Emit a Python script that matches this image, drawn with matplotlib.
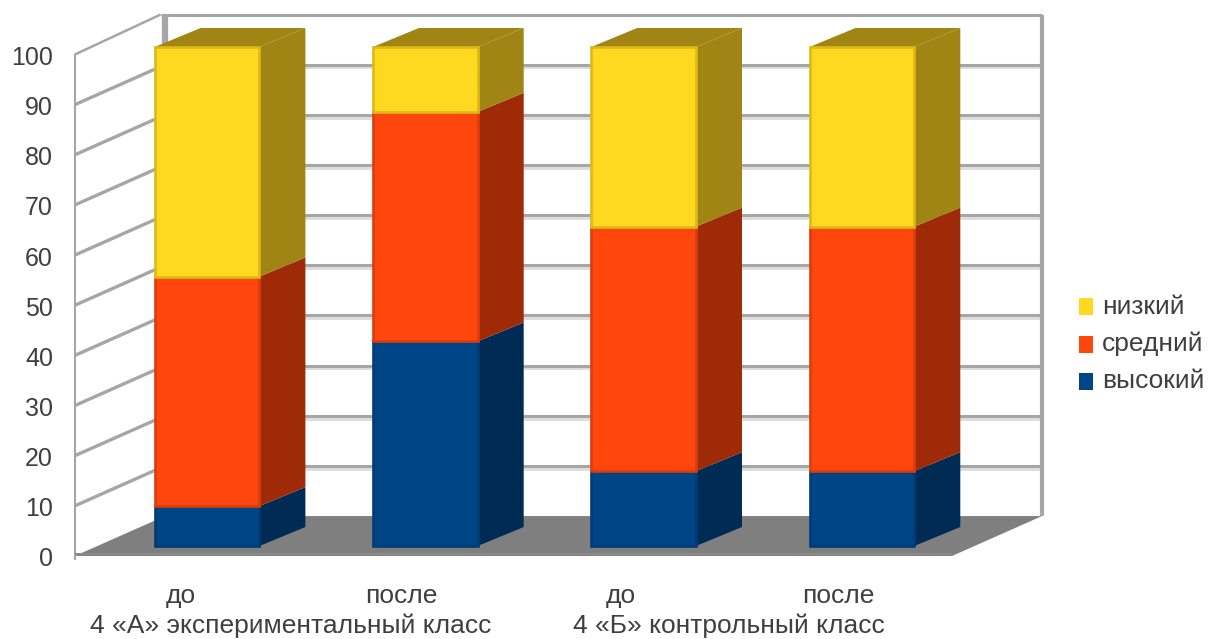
# Stacked 3D-style bars built from flat polygons
import matplotlib
matplotlib.use("Agg")
import matplotlib.pyplot as plt
from matplotlib.patches import Polygon

plt.rcParams['font.family'] = ['Liberation Sans', 'DejaVu Sans']

stage_labels = ["до", "после", "до", "после"]
group_labels = ["4 «А» экспериментальный класс", "4 «Б» контрольный класс"]
level_names = ["высокий", "средний", "низкий"]
high = [8, 41, 15, 15]
middle = [46, 46, 49, 49]
low = [46, 13, 36, 36]
y_ticks = [0, 10, 20, 30, 40, 50, 60, 70, 80, 90, 100]

front_col = ["#004586", "#ff460d", "#ffd91f"]
side_col = ["#002b54", "#9f2a07", "#a08414"]
edge_col = ["#003c75", "#dc3c0b", "#dcb916"]
grid_col = "#a6a6a6"

fig = plt.figure(figsize=(12.08, 6.39), dpi=100)
ax = fig.add_axes([0, 0, 1, 1])

# x unit = one bar step, y unit = one percent
XS = 218.3
YS = 4.99
ax.set_xlim(-207 / XS, (1208 - 207) / XS)
ax.set_ylim((546 - 639) / YS, 546 / YS)
ax.axis("off")

# box corners
wx0, wx1 = -0.605, 3.413   # front plane
ddx = 90 / XS              # depth of the box
y0_front = -2.0
y0_back = 6.0
y_scale = 1.005

bar_half = 0.24
bar_dx = 46 / XS
bar_dy = 19 / YS


def poly(pts, color, z, lw=0, edge=None):
    ax.add_patch(Polygon(pts, closed=True, facecolor=color, edgecolor=edge or color, linewidth=lw, zorder=z))


def line(xs, ys, z=2, lw=2.1, color=grid_col):
    ax.plot(xs, ys, color=color, linewidth=lw, zorder=z, solid_capstyle="butt")


# back wall grid with a faint shadow under each line
bx0 = wx0 + ddx
bx1 = wx1 + ddx
for v in y_ticks[1:-1]:
    y_b = y0_back + v * y_scale
    line([bx0, bx1], [y_b - 0.55, y_b - 0.55], z=1.5, lw=2.0, color="#dcdcdc")
    line([bx0, bx1], [y_b, y_b], z=1.6, lw=2.2)

# left wall grid
for v in y_ticks[1:-1]:
    line([wx0, bx0], [y0_front + v * y_scale, y0_back + v * y_scale], z=2, lw=2.4)

# frame of the walls
top_f = y0_front + 100 * y_scale
top_b = y0_back + 100 * y_scale
line([wx0, wx0], [y0_front - 0.8, top_f], z=2.5, lw=1.5)
line([wx0, bx0 - 0.02], [top_f, top_b], z=2.5, lw=1.8)
line([bx0 - 0.02, bx1], [top_b, top_b], z=2.5, lw=2.2)
line([bx0, bx0], [y0_back, top_b], z=2.5, lw=4.5)
line([bx1, bx1], [y0_back, top_b], z=2.5, lw=3.0)

# floor
poly([(wx0, y0_front), (wx1, y0_front), (bx1, y0_back), (bx0, y0_back)], "#7f7f7f", 3)
line([wx0, wx1], [y0_front + 0.4, y0_front + 0.4], z=3.1, lw=1.5, color="#8a8a8a")

# bars, stacked from the bottom
for i in range(len(high)):
    base = 0
    for k, vals in enumerate([high, middle, low]):
        top = base + vals[i]
        xl, xr = i - bar_half, i + bar_half
        z = 4 + k * 0.1
        poly([(xr, base), (xr + bar_dx, base + bar_dy), (xr + bar_dx, top + bar_dy), (xr, top)], side_col[k], z)
        if k == 2:
            poly([(xl, top), (xr, top), (xr + bar_dx, top + bar_dy), (xl + bar_dx, top + bar_dy)], side_col[k], z)
        poly([(xl, base), (xr, base), (xr, top), (xl, top)], front_col[k], z + 0.05, lw=1.9, edge=edge_col[k])
        base = top

# value labels on the left
for v in y_ticks:
    ax.text(-154 / XS, -2.0 + v * y_scale - 0.7, str(v), ha="right", va="center", fontsize=18, color="#3f3f3f", zorder=6)

# two-level category labels
stage_x = [-26 / XS, 1 - 24 / XS, 2 - 23 / XS, 3 - 24 / XS]
for x, s in zip(stage_x, stage_labels):
    ax.text(x, -11.4, s, ha="center", va="baseline", fontsize=19, color="#3f3f3f", zorder=6)
group_x = [(291 - 207) / XS, (729 - 207) / XS]
for x, s in zip(group_x, group_labels):
    ax.text(x, -17.4, s, ha="center", va="baseline", fontsize=19, color="#3f3f3f", zorder=6)

# legend, top entry is the top of the stack
legend_y = [306.5, 344, 381.5]
for py, name, c in zip(legend_y, level_names[::-1], front_col[::-1]):
    y = (546 - py) / YS
    poly([((1079 - 207) / XS, y - 8.5 / YS), ((1093 - 207) / XS, y - 8.5 / YS),
          ((1093 - 207) / XS, y + 8.5 / YS), ((1079 - 207) / XS, y + 8.5 / YS)], c, 6)
    ax.text((1102 - 207) / XS, y, name, ha="left", va="center", fontsize=19, color="#3f3f3f", zorder=6)

fig.savefig("out.png", dpi=100, facecolor="white")
